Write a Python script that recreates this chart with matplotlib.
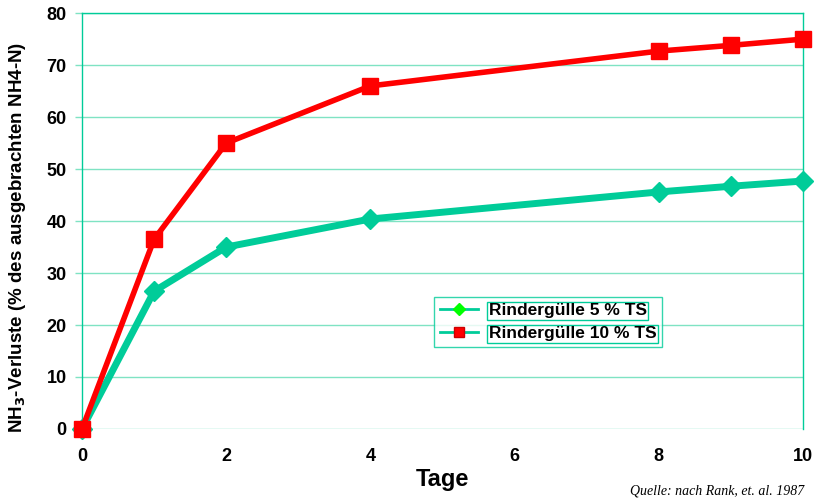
import matplotlib.pyplot as plt
from matplotlib.lines import Line2D

tage = [0, 1, 2, 4, 8, 9, 10]
rind_5 = [0, 26.5, 35.0, 40.4, 45.6, 46.7, 47.7]
rind_10 = [0, 36.5, 55.0, 66.0, 72.7, 73.8, 75.0]
labels = ["Rindergülle 5 % TS", "Rindergülle 10 % TS"]

teal = "#00cc99"
grid = "#7fe3c3"

plt.rcParams["font.family"] = ["Liberation Sans", "DejaVu Sans"]
fig = plt.figure(figsize=(8.16, 4.98), dpi=100)
ax = fig.add_axes([0.1005, 0.1386, 0.8835, 0.835])

ax.plot(tage, rind_5, color=teal, lw=5, marker="D", ms=10, mfc=teal, mec=teal, clip_on=False, zorder=3)
ax.plot(tage, rind_10, color="#ff0000", lw=4, marker="s", ms=12, mfc="#ff0000", mec="#ff0000", clip_on=False, zorder=4)

ax.set_xlim(0, 10)
ax.set_ylim(0, 80)
ax.set_xticks([0, 2, 4, 6, 8, 10])
ax.set_yticks(range(0, 81, 10))
ax.grid(axis="y", color=grid, lw=1)
ax.set_axisbelow(True)
for s in ["left", "top", "right"]:
    ax.spines[s].set_color(teal)
    ax.spines[s].set_linewidth(1)
ax.spines["bottom"].set_visible(False)
ax.tick_params(axis="y", colors=grid, labelcolor="black", length=5, width=1, pad=6)
ax.tick_params(axis="x", length=0, pad=14)
for t in ax.get_xticklabels() + ax.get_yticklabels():
    t.set_fontsize(13)
    t.set_fontweight("bold")

ax.set_xlabel("Tage", fontsize=17, fontweight="bold", labelpad=2)
ax.set_ylabel("NH$_\\mathbf{3}$-Verluste (% des ausgebrachten NH4-N)", fontsize=13.5, fontweight="bold", labelpad=12)
ax.yaxis.set_label_coords(-0.075, 0.46)

handles = [
    Line2D([], [], color=teal, lw=2, marker="D", ms=6, mfc="#00ff00", mec="#00ff00"),
    Line2D([], [], color=teal, lw=2, marker="s", ms=7, mfc="#ff0000", mec="#cc0000"),
]
leg = ax.legend(handles, labels, loc="upper left", bbox_to_anchor=(0.476, 0.338),
                frameon=True, fancybox=False, edgecolor=teal, handlelength=2.2,
                prop={"size": 12.5, "weight": "bold"}, borderpad=0.35, labelspacing=0.45,
                handletextpad=0.6)
leg.get_frame().set_linewidth(1)
for t in leg.get_texts():
    t.set_bbox(dict(facecolor="none", edgecolor=teal, lw=1, pad=1))

fig.text(0.985, 0.002, "Quelle: nach Rank, et. al. 1987", ha="right", va="bottom",
         fontsize=10, style="italic", family="Liberation Serif")

fig.savefig("out.png", dpi=100)
